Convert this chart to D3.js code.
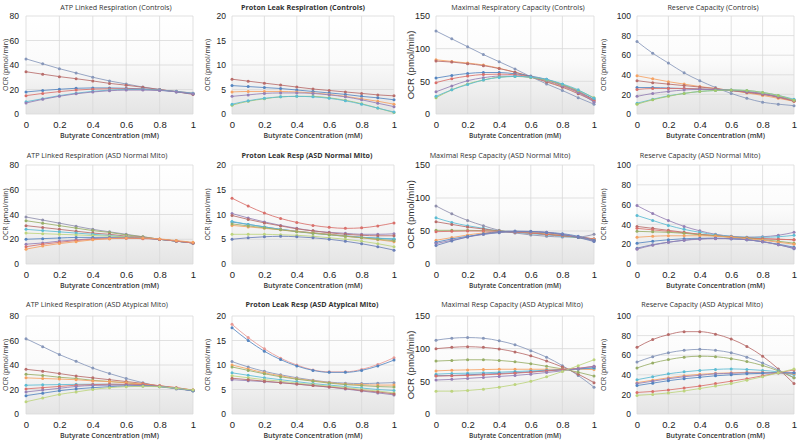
<!DOCTYPE html>
<html><head><meta charset="utf-8">
<script src="https://cdn.jsdelivr.net/npm/d3@7"></script>
<style>body{margin:0;background:#fff}svg{display:block}</style>
</head><body><svg id="c" width="798" height="442"></svg>
<script>
// ---------- DATA ----------
const xValues = [0,0.1,0.2,0.3,0.4,0.5,0.6,0.7,0.8,0.9,1];
const xTicks = [0,0.2,0.4,0.6,0.8,1];
const xTitle = "Butyrate Concentration (mM)";
const yTitle = "OCR (pmol/min)";
const titles = [
 "ATP Linked  Respiration  (Controls)","Proton Leak Respiration (Controls)","Maximal Respiratory  Capacity  (Controls)","Reserve Capacity  (Controls)",
 "ATP Linked  Respiration  (ASD Normal Mito)","Proton Leak Resp (ASD Normal Mito)","Maximal Resp Capacity  (ASD Normal Mito)","Reserve Capacity  (ASD Normal Mito)",
 "ATP Linked  Respiration  (ASD Atypical  Mito)","Proton Leak Resp (ASD Atypical  Mito)","Maximal Resp Capacity  (ASD Atypical  Mito)","Reserve Capacity  (ASD Atypical  Mito)"
];
const yMaxes = [80,20,150,100, 80,20,150,100, 80,20,150,100];
const yTickSteps = [20,5,50,20, 20,5,50,20, 20,5,50,20];

const atpControls = [
 [45,41,37,33.5,30,27,24.5,22,20,18,16.5],
 [34.5,32.5,30.5,28.8,27,25,23.5,21.8,20,18.2,16],
 [18,19.2,20.2,21,21.3,21.3,21,20.5,19.5,18.2,16.5],
 [15,16.8,18.3,19.5,20.3,20.6,20.6,20.3,19.6,18.5,17],
 [10,12.5,15,17,18.5,19.5,20,20,19.5,18.5,17],
 [9,12,14.5,16.5,18,19,19.5,19.5,19.2,18.2,16.5]
];
const leakControls = [
 [7.1,6.7,6.3,5.9,5.5,5.1,4.8,4.5,4.2,3.9,3.7],
 [5.8,5.6,5.4,5.2,4.9,4.6,4.3,4.0,3.6,3.3,2.9],
 [4.5,4.6,4.6,4.6,4.5,4.3,4.0,3.6,3.1,2.6,2.0],
 [3.6,3.9,4.2,4.3,4.3,4.2,3.9,3.5,2.9,2.2,1.5],
 [1.8,2.6,3.1,3.5,3.6,3.6,3.3,2.8,2.1,1.2,0.3],
 [2.0,2.7,3.2,3.5,3.6,3.5,3.2,2.7,2.0,1.2,0.4]
];
const maxControls = [
 [127,115,103,91,80,69,57,46,36,25,15],
 [83,80.5,78,75,70,64,57,50,42,33,22],
 [81,79.5,77,74,69.5,64,57,49,41,31,20],
 [55,59,62,63.5,63.5,61.5,58,53,45,35,22],
 [48,54,58,60.5,61,60,57,52,44,34,20],
 [34,43,51,55.5,58,58,56,51,43,33,18],
 [25,37,46,52,56.5,57.5,56,52,45,36,25],
 [27,37,45,52,56,57.5,56.5,53,46,37,24]
];
const reserveControls = [
 [74,62,52,42,34,27,21,16,12,10,8.5],
 [39,36,33,30.5,28,26,24,21.5,19,16,13],
 [34,32,30.5,29,27.5,26,24,22,20,17,13],
 [27,27,26.5,26,25.5,25,24,22.5,20.5,17.5,14],
 [25,26,26,26,25.5,25,24,22.5,20.5,17.5,13.5],
 [18,21,23,24.5,25,25,24.5,23,21,18,14],
 [11,15,18.5,21,23,24,24.5,24,22,19,15],
 [10,14.5,18,21,23,24,24.5,24,22,19,14]
];
const atpNormal = [
 [38,35.5,33,30.5,28,26,24,22,20,18.5,17],
 [35,33,31,29,27,25.5,23.5,22,20,18.5,17],
 [31,29.5,28,26.5,25,24,22.5,21.5,20,18.5,17],
 [28,27,26,25,24,23,22,21,20,18.5,17],
 [25,24.5,24,23.5,23,22.5,22,21,20,18.5,17],
 [20,20.5,21,21.5,21.5,21.5,21.5,21,20,18.5,17],
 [16,17,18.5,19.5,20.5,21,21,20.8,20,18.5,17],
 [14,16,17.5,19,20,20.5,20.8,20.5,20,18.5,17],
 [12,14.5,16.5,18,19.5,20.5,21,21,20.3,19,17.5]
];
const leakNormal = [
 [13.3,11.7,10.3,9.2,8.4,7.8,7.4,7.2,7.3,7.7,8.3],
 [10.2,9.3,8.5,7.8,7.2,6.7,6.4,6.2,6.0,6.0,6.1],
 [9.8,9.0,8.3,7.7,7.1,6.7,6.3,6.0,5.8,5.7,5.7],
 [8.5,8.0,7.5,7.0,6.6,6.3,6.0,5.7,5.4,5.2,5.0],
 [8.6,8.0,7.5,7.0,6.6,6.2,5.9,5.6,5.4,5.2,5.1],
 [7.8,7.5,7.2,6.9,6.6,6.3,6.0,5.6,5.3,4.9,4.5],
 [8.1,7.7,7.3,6.9,6.5,6.2,5.9,5.6,5.3,5.0,4.7],
 [6.0,6.0,6.0,5.9,5.8,5.6,5.3,5.0,4.6,4.1,3.5],
 [5.0,5.3,5.5,5.6,5.5,5.3,5.0,4.6,4.1,3.5,2.8]
];
const maxNormal = [
 [88,76,66,58,51,47,44,42,41,41,45],
 [70,63,58,54,50,48,46,44,42,40,38],
 [64,60,56,53,50,48,47,45,43,41,38],
 [51,51,51,50.5,50,49,47.5,45.5,43,40,36],
 [49,49.5,50,50,49.5,48.5,47,45,43,41,38],
 [36,40,44,47,48.5,49,48.5,47,44.5,41,37],
 [33,38,42,45,47.5,49,49,48,46,42,36],
 [31,36,41,45,48,49,49,48,45,41,35],
 [28,35,41,46,49,50,49.5,47.5,44.5,40,34]
];
const reserveNormal = [
 [59,51,44,38,33.5,30,28,27,27.5,29,32],
 [49,44,39,35,32,29.5,28,27,27,27.5,29],
 [38,36,34,32,30,28.5,27,26,25.5,25,24.5],
 [36,34.5,33,31.5,30,28.5,27.5,26.5,25.5,25,24.5],
 [33,32.5,32,31,29.5,28.5,27,26,24.5,23,21],
 [27,28,28.5,28.5,28.5,28,27,25.5,24,22,20],
 [21,23,24.5,25.5,26,26,25.5,24.5,22.5,20,17],
 [16,19.5,22,24,25.5,26,25.5,24.5,22.5,19.5,15.5],
 [15,19,22,24,25,25.5,25.5,24.5,22.5,19.5,16]
];
const atpAtypical = [
 [61.5,55,48.5,43,37.5,33,29,25.5,22.5,20.5,19],
 [36.5,35,33,31,29.5,28,26.5,25,23,21,19],
 [32.5,31.5,30,29,27.5,26.5,25.5,24,22.5,21,19.5],
 [29.5,29,28.5,28,27,26.5,25.5,24.5,23,21.5,19.5],
 [23.5,23.8,24,24.2,24.3,24.3,24,23.5,22.5,21,19],
 [20.5,21.5,22.5,23.5,24,24.3,24.3,24,23,21.5,19.5],
 [18,19.5,21,22.5,23.3,23.5,23.5,23.2,22.5,21,19],
 [15,17,19,20.5,21.5,22.3,22.8,22.8,22.3,21,19],
 [10,13,16,18,20,21.5,22.3,22.6,22.3,21,19.5]
];
const leakAtypical = [
 [18.3,15.6,13.3,11.4,10.0,9.0,8.6,8.6,9.1,10.1,11.5],
 [17.6,15.0,12.8,11.1,9.8,8.9,8.5,8.5,8.9,9.8,11.0],
 [10.7,9.6,8.7,8.0,7.4,6.9,6.5,6.3,6.2,6.3,6.4],
 [10.0,9.2,8.4,7.8,7.2,6.8,6.4,6.1,6.0,5.9,5.9],
 [9.6,8.9,8.2,7.6,7.1,6.7,6.3,6.0,5.8,5.6,5.5],
 [8.4,7.9,7.4,7.0,6.6,6.2,5.9,5.6,5.3,5.0,4.8],
 [7.8,7.4,7.0,6.7,6.3,6.0,5.7,5.4,5.0,4.7,4.3],
 [7.0,6.8,6.6,6.4,6.1,5.8,5.5,5.1,4.7,4.3,3.9],
 [7.3,7.0,6.7,6.4,6.1,5.8,5.5,5.2,4.8,4.5,4.1]
];
const maxAtypical = [
 [113,116,117,116,112,106,97,87,74,59,41],
 [100,102,103,102,99.5,95,89,81,72,61,48],
 [81,82,83,83,82,80,77,73,69,64,58],
 [66,67,67.5,68,68.5,68.5,68.5,68.5,68.5,68.5,68],
 [61,62,62.5,63,64,65,66,67,68,69,70],
 [58.5,59,60,61,62,63,64.5,66,67.5,69,71],
 [58,58.5,59,60,61,62.5,64,66,68,70,73],
 [52,53,54.5,56,57.5,59,61,63.5,66,69.5,73],
 [35,35,36,38,41,45,50,57,65,74,83]
];
const reserveAtypical = [
 [68,76,81,84,84,81.5,76.5,69,59,46,31],
 [53,58.5,62.5,65,66,65,62.5,58,52,45,37],
 [47,52,55.5,58,59,58.5,56.5,53.5,49.5,44,37],
 [35,38,41,43,44.5,45.5,46,45.5,44.5,43,40],
 [32,34.5,37,39,40.5,41.5,42,42.5,42.5,42,41],
 [31,33.5,36,38,39.5,41,41.5,42,42,42,42],
 [29,31.5,34,36,37.5,39,40,41,41.5,42,42],
 [22,23,24.5,26.5,28.5,31,33.5,36,39,42,45],
 [19,20,21.5,23.5,26,28.5,31,34.5,38,42,46]
];
const panelData = [atpControls, leakControls, maxControls, reserveControls,
  atpNormal, leakNormal, maxNormal, reserveNormal,
  atpAtypical, leakAtypical, maxAtypical, reserveAtypical];

// ---------- STYLE / LAYOUT ----------
const C = {slate:"#8797ba", brown:"#b86d6b", blue:"#5585c0", red:"#d9706b", purple:"#9580b5",
  cyan:"#5cbcd3", green:"#a5c86a", orange:"#f5a263", olive:"#98ae67", lgreen:"#bdd47e",
  sblue:"#6c80b8", salmon:"#e89a95", gray:"#9090ad"};
const panelColors = [
 [C.slate,C.brown,C.blue,C.red,C.cyan,C.purple],
 [C.brown,C.blue,C.orange,C.purple,C.green,C.cyan],
 [C.slate,C.orange,C.brown,C.blue,C.red,C.purple,C.green,C.cyan],
 [C.slate,C.orange,C.brown,C.blue,C.red,C.purple,C.cyan,C.green],
 [C.gray,C.olive,C.brown,C.cyan,C.lgreen,C.blue,C.purple,C.red,C.orange],
 [C.red,C.purple,C.brown,C.blue,C.cyan,C.orange,C.olive,C.lgreen,C.sblue],
 [C.gray,C.cyan,C.brown,C.olive,C.red,C.orange,C.blue,C.purple,C.sblue],
 [C.purple,C.cyan,C.brown,C.red,C.olive,C.orange,C.blue,C.sblue,C.purple],
 [C.slate,C.brown,C.olive,C.orange,C.cyan,C.red,C.purple,C.blue,C.lgreen],
 [C.salmon,C.blue,C.slate,C.orange,C.olive,C.cyan,C.lgreen,C.purple,C.brown],
 [C.slate,C.brown,C.olive,C.orange,C.cyan,C.blue,C.red,C.purple,C.lgreen],
 [C.brown,C.slate,C.olive,C.cyan,C.orange,C.purple,C.blue,C.red,C.lgreen]
];
const colLeft = [26,232,436,637], colRight = [193,394,594,794];
const rowTop = [16,165,316], rowBottom = [114,264,414];
const titleX = [116,303,518,713, 97,307,500,700, 97,312,512,702];
const titleY = [7,155,304];
const yTitleX = [6,208,411,604];
const bigY = [false,false,true,false, false,false,true,false, false,false,true,false];
const boldTitle = [false,true,false,false, false,true,false,false, false,true,false,false];

const svg = d3.select("#c");
const defs = svg.append("defs");
const grad = defs.append("linearGradient").attr("id","bg").attr("x1",0).attr("y1",0).attr("x2",0).attr("y2",1);
grad.append("stop").attr("offset","0%").attr("stop-color","#ffffff");
grad.append("stop").attr("offset","45%").attr("stop-color","#fbfbfb");
grad.append("stop").attr("offset","100%").attr("stop-color","#e4e4e4");

const FONT = "'Open Sans','Liberation Sans',Arial,sans-serif";
const AFONT = "'Liberation Sans',Arial,sans-serif";

panelData.forEach((series, i) => {
  const col = i % 4, row = Math.floor(i / 4);
  const L = colLeft[col], R = colRight[col], T = rowTop[row], B = rowBottom[row];
  const x = d3.scaleLinear().domain([0,1]).range([L,R]);
  const y = d3.scaleLinear().domain([0,yMaxes[i]]).range([B,T]);
  const g = svg.append("g");
  g.append("rect").attr("x",L).attr("y",T).attr("width",R-L).attr("height",B-T).attr("fill","url(#bg)");
  const yT = d3.range(0, yMaxes[i] + 0.001, yTickSteps[i]);
  g.append("g").selectAll("line").data(yT).join("line")
    .attr("x1",L).attr("x2",R).attr("y1",d=>y(d)).attr("y2",d=>y(d))
    .attr("stroke","#d9d9d9").attr("stroke-width",0.8);
  g.append("g").selectAll("line").data(xTicks).join("line")
    .attr("x1",d=>x(d)).attr("x2",d=>x(d)).attr("y1",T).attr("y2",B)
    .attr("stroke","#d9d9d9").attr("stroke-width",0.8);
  const ax = g.append("g").attr("transform",`translate(0,${B})`)
    .call(d3.axisBottom(x).tickValues(xTicks).tickSize(0).tickPadding(7).tickFormat(d3.format("~g")));
  ax.select(".domain").remove();
  ax.selectAll("text").attr("font-family",AFONT).attr("font-size",9.5).attr("fill","#222");
  const ay = g.append("g").attr("transform",`translate(${L},0)`)
    .call(d3.axisLeft(y).tickValues(yT).tickSize(0).tickPadding(col===0?7:6).tickFormat(d3.format("~g")));
  ay.select(".domain").remove();
  ay.selectAll("text").attr("font-family",AFONT).attr("font-size",bigY[i]?9:8.5).attr("fill","#222");
  g.append("text").attr("x",titleX[i]).attr("y",titleY[row]).attr("dy","0.35em")
    .attr("text-anchor","middle").attr("font-family",FONT).attr("font-size",7.2)
    .attr("font-weight",boldTitle[i]?"bold":"normal").attr("fill","#333").text(titles[i]);
  g.append("text").attr("x",(L+R)/2).attr("y",B+22).attr("dy","0.35em")
    .attr("text-anchor","middle").attr("font-family",FONT).attr("font-size",bigY[i]?6.5:7)
    .attr("font-weight","600").attr("fill","#333").text(xTitle);
  const yx = yTitleX[col], yy = (T+B)/2;
  g.append("text").attr("transform",`translate(${yx},${yy}) rotate(-90)`).attr("dy","0.35em")
    .attr("text-anchor","middle").attr("font-family",bigY[i]?AFONT:FONT).attr("font-size",bigY[i]?9.5:7)
    .attr("fill","#333").text(yTitle);
  const line = d3.line().x((d,k)=>x(xValues[k])).y(d=>y(d)).curve(d3.curveMonotoneX);
  series.forEach((s, j) => {
    const color = panelColors[i][j];
    g.append("path").datum(s).attr("d",line).attr("fill","none").attr("stroke",color).attr("stroke-width",0.85);
    g.append("g").selectAll("circle").data(s).join("circle")
      .attr("cx",(d,k)=>x(xValues[k])).attr("cy",d=>y(d)).attr("r",1.5).attr("fill",color);
  });
});
</script></body></html>
